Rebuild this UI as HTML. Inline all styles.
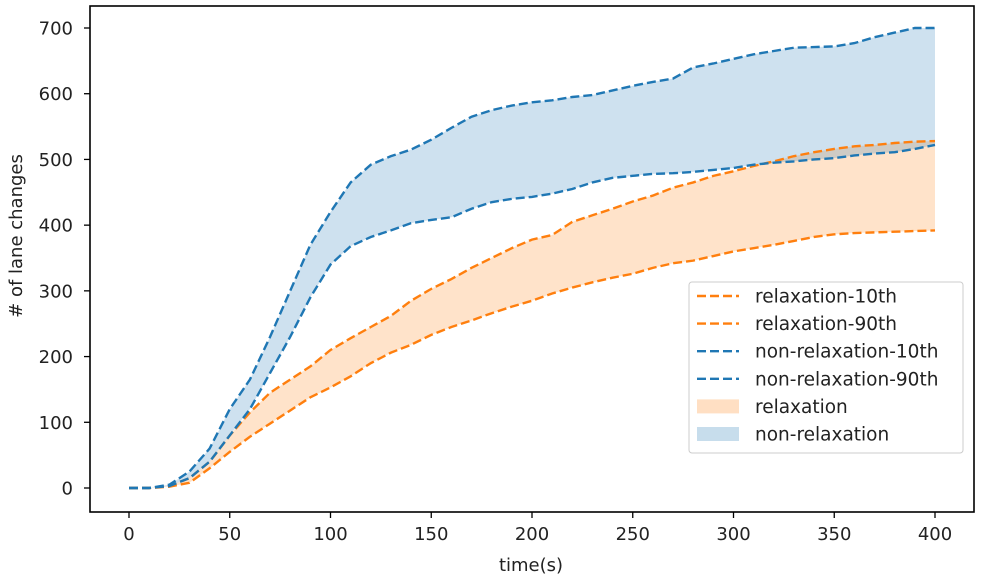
<!DOCTYPE html>
<html><head><meta charset="utf-8"><style>
body{margin:0;background:#fff}
svg{display:block;font-family:"DejaVu Sans","Liberation Sans",sans-serif}
</style></head><body>
<svg id="chart" width="982" height="580" viewBox="0 0 982 580" xmlns="http://www.w3.org/2000/svg">
<g id="fills"></g><g id="lines"></g><g id="axes"></g><g id="legend"></g>
</svg>
<script>
const times=[0,10,20,30,40,50,60,70,80,90,100,110,120,130,140,150,160,170,180,190,200,210,220,230,240,250,260,270,280,290,300,310,320,330,340,350,360,370,380,390,400];
const nonRel90=[0,0,5,25,60,120,165,230,300,370,420,465,492,505,515,530,548,565,575,582,587,590,595,598,605,612,618,623,640,646,653,660,665,670,671,672,677,686,693,700,700];
const nonRel10=[0,0,3,15,40,80,120,175,230,290,340,368,382,392,403,408,412,425,435,440,443,448,455,465,472,475,478,479,481,484,487,492,495,497,500,502,506,509,511,516,522];
const rel90=[0,0,3,15,40,80,115,145,165,185,210,228,245,262,285,303,318,335,350,365,378,385,405,415,425,436,445,457,465,475,482,490,497,505,511,516,520,522,525,527,528];
const rel10=[0,0,2,8,30,55,78,98,118,138,153,170,190,206,218,233,245,255,266,276,285,296,305,313,320,326,335,342,346,353,360,365,370,376,382,386,388,389,390,391,392];
const xTicks=[0,50,100,150,200,250,300,350,400];
const yTicks=[0,100,200,300,400,500,600,700];
const NS="http://www.w3.org/2000/svg";
const X=v=>129+v*(935-129)/400;
const Y=v=>488-v*(488-28)/700;
function mk(tag,attrs,parent){const e=document.createElementNS(NS,tag);for(const k in attrs)e.setAttribute(k,attrs[k]);parent.appendChild(e);return e;}
const fills=document.getElementById('fills'),lines=document.getElementById('lines'),axes=document.getElementById('axes'),legend=document.getElementById('legend');
function band(lo,hi,color,name){
  let d='M'+times.map((t,i)=>X(t)+','+Y(hi[i])).join('L');
  d+='L'+times.slice().reverse().map((t,j)=>{const i=times.length-1-j;return X(t)+','+Y(lo[i]);}).join('L')+'Z';
  const p=mk('path',{d:d,fill:color,'fill-opacity':0.22,stroke:'none'},fills);
  
  
}
band(rel10,rel90,'#ff7f0e','relaxation-band');
band(nonRel10,nonRel90,'#1f77b4','non-relaxation-band');
function line(arr,color,name){
  const p=mk('polyline',{points:times.map((t,i)=>X(t)+','+Y(arr[i])).join(' '),fill:'none',stroke:color,'stroke-width':2.4,'stroke-dasharray':'9,4'},lines);
  
  
}
line(rel10,'#ff7f0e','relaxation-10th-line');
line(rel90,'#ff7f0e','relaxation-90th-line');
line(nonRel10,'#1f77b4','non-relaxation-10th-line');
line(nonRel90,'#1f77b4','non-relaxation-90th-line');
const frame=mk('rect',{x:90,y:6,width:884,height:506,fill:'none',stroke:'#000','stroke-width':1.6},axes);


xTicks.forEach(v=>{
  mk('line',{x1:X(v),x2:X(v),y1:512,y2:518,stroke:'#000','stroke-width':1.3},axes);
  const t=mk('text',{x:X(v),y:540,'text-anchor':'middle','font-size':18,fill:'#222'},axes);
  t.textContent=v;
  
  
});
yTicks.forEach(v=>{
  mk('line',{x1:84,x2:90,y1:Y(v),y2:Y(v),stroke:'#000','stroke-width':1.3},axes);
  const t=mk('text',{x:73,y:Y(v)+6.5,'text-anchor':'end','font-size':18,fill:'#222'},axes);
  t.textContent=v;
  
  
});
const xt=mk('text',{x:531,y:571,'text-anchor':'middle','font-size':18,fill:'#222'},axes);
xt.textContent='time(s)';


const yt=mk('text',{x:0,y:0,transform:'translate(22,236) rotate(-90)','text-anchor':'middle','font-size':18,fill:'#222'},axes);
yt.textContent='# of lane changes';


const lb=mk('rect',{x:689,y:282,width:274,height:171,rx:3,fill:'#fff','fill-opacity':0.8,stroke:'#ccc','stroke-width':1},legend);


const entries=[['relaxation-10th','#ff7f0e','line'],['relaxation-90th','#ff7f0e','line'],['non-relaxation-10th','#1f77b4','line'],['non-relaxation-90th','#1f77b4','line'],['relaxation','#ff7f0e','patch'],['non-relaxation','#1f77b4','patch']];
entries.forEach((e,i)=>{
  const y=296+i*27.6;
  const g=mk('g',{},legend);
  
  
  if(e[2]==='line') mk('line',{x1:697,x2:739,y1:y,y2:y,stroke:e[1],'stroke-width':2.4,'stroke-dasharray':'9,4'},g);
  else mk('rect',{x:697,y:y-7,width:42,height:14,fill:e[1],'fill-opacity':0.25},g);
  const t=mk('text',{x:755,y:y+6.5,'font-size':18.5,fill:'#222'},g);
  t.textContent=e[0];
});
</script>
</body></html>
